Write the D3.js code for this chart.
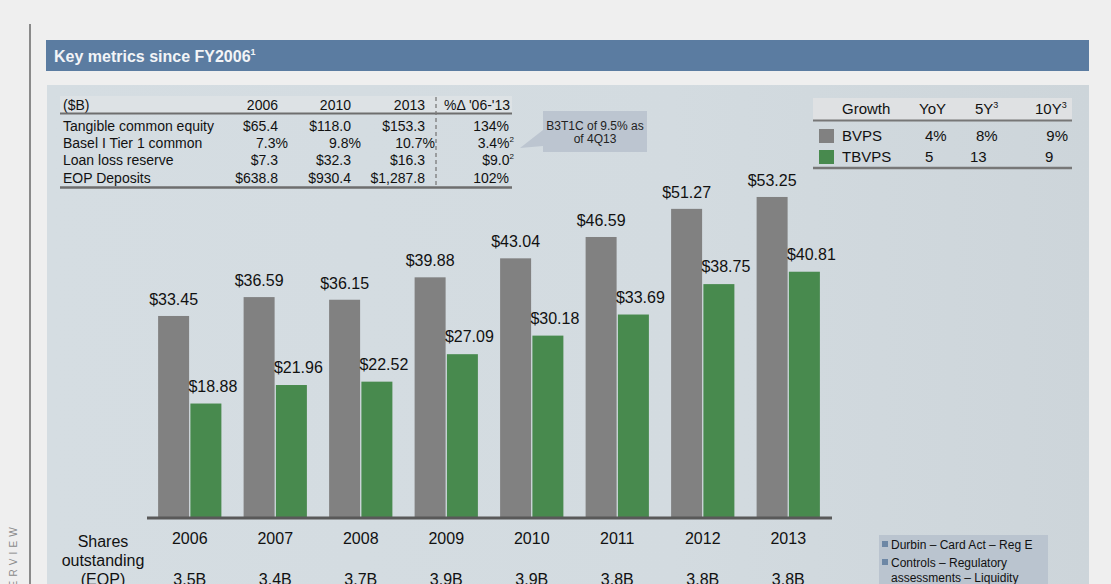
<!DOCTYPE html>
<html><head><meta charset="utf-8">
<script src="https://cdn.jsdelivr.net/npm/d3@7"></script>
<style>
html,body{margin:0;padding:0;background:#efefef;overflow:hidden}
svg{display:block;font-family:"Liberation Sans",Arial,sans-serif}
</style></head>
<body><svg id="c" width="1111" height="584"></svg>
<script>
// ---- data ----
const years = ["2006","2007","2008","2009","2010","2011","2012","2013"];
const series = ["BVPS","TBVPS"];
const bvps  = [33.45, 36.59, 36.15, 39.88, 43.04, 46.59, 51.27, 53.25];
const tbvps = [18.88, 21.96, 22.52, 27.09, 30.18, 33.69, 38.75, 40.81];
const shares = ["3.5B","3.4B","3.7B","3.9B","3.9B","3.8B","3.8B","3.8B"];

const metricNames = ["Tangible common equity","Basel I Tier 1 common","Loan loss reserve","EOP Deposits"];
const metric2006 = ["$65.4","7.3%","$7.3","$638.8"];
const metric2010 = ["$118.0","9.8%","$32.3","$930.4"];
const metric2013 = ["$153.3","10.7%","$16.3","$1,287.8"];
const metricChange = ["134%","3.4%","$9.0","102%"];
const metricChangeNote = ["","2","2",""];
const metricHeader = ["($B)","2006","2010","2013","%Δ '06-'13"];

const growthHeader = ["Growth","YoY","5Y","10Y"];
const growthYoY = ["4%","5"];
const growth5Y = ["8%","13"];
const growth10Y = ["9%","9"];

const calloutLines = ["B3T1C of 9.5% as","of 4Q13"];
const noteLines = ["Durbin – Card Act – Reg E","Controls – Regulatory","assessments – Liquidity"];
const titleText = "Key metrics since FY2006";

// ---- drawing ----
const svg = d3.select("#c");
const GRAY = "#818181", GREEN = "#488a4e";
const colors = d3.scaleOrdinal().domain(series).range([GRAY, GREEN]);

const defs = svg.append("defs");
const g1 = defs.append("linearGradient").attr("id","pg").attr("x1","0").attr("x2","1").attr("y1","0").attr("y2","0");
g1.append("stop").attr("offset","0").attr("stop-color","#d5dde2");
g1.append("stop").attr("offset","0.6").attr("stop-color","#d3dbe0");
g1.append("stop").attr("offset","1").attr("stop-color","#cdd5da");

// left vertical rule and side label
svg.append("line").attr("x1",30).attr("x2",30).attr("y1",24).attr("y2",584).attr("stroke","#8a8a8a").attr("stroke-width",2);
svg.append("text").attr("transform","translate(17,523) rotate(-90)").attr("text-anchor","end")
  .attr("font-size",10).attr("letter-spacing","4.2").attr("fill","#8a8a8a").text("OVERVIEW");

// title bar
svg.append("rect").attr("x",46).attr("y",40).attr("width",1043).attr("height",31).attr("fill","#5b7ca1");
const tt = svg.append("text").attr("x",54).attr("y",62).attr("font-size",16).attr("font-weight","bold").attr("fill","#f2f4f7");
tt.append("tspan").text(titleText);
tt.append("tspan").attr("font-size",9).attr("dy",-7).text("1");

// panel
svg.append("rect").attr("x",47).attr("y",85).attr("width",1042).attr("height",499).attr("fill","url(#pg)");

// ---- metrics table ----
const T = svg.append("g").attr("font-size",14).attr("fill","#111");
T.append("rect").attr("x",60).attr("y",96).attr("width",452).attr("height",17).attr("fill","#dde2e5");
const colRight = [null,278,351,425,509];
T.append("text").attr("x",63).attr("y",110).text(metricHeader[0]);
[1,2,3].forEach(i=>T.append("text").attr("x",colRight[i]).attr("y",110).attr("text-anchor","end").text(metricHeader[i]));
T.append("text").attr("x",444).attr("y",110).text(metricHeader[4]);
T.append("line").attr("x1",60).attr("x2",512).attr("y1",113.5).attr("y2",113.5).attr("stroke","#6e6e6e").attr("stroke-width",2);
T.append("line").attr("x1",60).attr("x2",512).attr("y1",187.5).attr("y2",187.5).attr("stroke","#6e6e6e").attr("stroke-width",2.5);
T.append("line").attr("x1",436).attr("x2",436).attr("y1",97).attr("y2",187).attr("stroke","#7a7a7a").attr("stroke-width",1.3).attr("stroke-dasharray","4,3");

const rowY = d3.scalePoint().domain(metricNames).range([131,182.5]);
const pctShift = [0,10,0,0];
metricNames.forEach((name,i)=>{
  const y = rowY(name);
  T.append("text").attr("x",63).attr("y",y).text(name);
  T.append("text").attr("x",278+pctShift[i]).attr("y",y).attr("text-anchor","end").text(metric2006[i]);
  T.append("text").attr("x",351+pctShift[i]).attr("y",y).attr("text-anchor","end").text(metric2010[i]);
  T.append("text").attr("x",425+pctShift[i]).attr("y",y).attr("text-anchor","end").text(metric2013[i]);
  const t = T.append("text").attr("x",metricChangeNote[i]? 514:509).attr("y",y).attr("text-anchor","end");
  t.append("tspan").text(metricChange[i]);
  if (metricChangeNote[i]) t.append("tspan").attr("font-size",8).attr("dy",-6).text(metricChangeNote[i]);
});

// callout
svg.append("path").attr("d","M543,130 L520,148 L543,146 Z").attr("fill","#bcc5d0");
svg.append("rect").attr("x",543).attr("y",111).attr("width",104).attr("height",41).attr("fill","#bcc5d0");
calloutLines.forEach((l,i)=>svg.append("text").attr("x",595).attr("y",130+i*13).attr("text-anchor","middle")
  .attr("font-size",12).attr("fill","#222").text(l));

// ---- growth table ----
const G = svg.append("g").attr("font-size",15).attr("fill","#111");
G.append("rect").attr("x",813).attr("y",98).attr("width",259).attr("height",22).attr("fill","#dfe1e3");
G.append("text").attr("x",842).attr("y",114).text(growthHeader[0]);
G.append("text").attr("x",919).attr("y",114).text(growthHeader[1]);
const h5 = G.append("text").attr("x",975).attr("y",114); h5.append("tspan").text(growthHeader[2]); h5.append("tspan").attr("font-size",9).attr("dy",-6).text("3");
const h10 = G.append("text").attr("x",1035).attr("y",114); h10.append("tspan").text(growthHeader[3]); h10.append("tspan").attr("font-size",9).attr("dy",-6).text("3");
G.append("line").attr("x1",813).attr("x2",1072).attr("y1",120.5).attr("y2",120.5).attr("stroke","#777").attr("stroke-width",2);
G.append("line").attr("x1",813).attr("x2",1072).attr("y1",168).attr("y2",168).attr("stroke","#777").attr("stroke-width",2.5);
const gy = d3.scalePoint().domain(series).range([141,162]);
series.forEach((s,i)=>{
  const y = gy(s);
  G.append("rect").attr("x",819).attr("y",y-12).attr("width",15).attr("height",14).attr("fill",colors(s));
  G.append("text").attr("x",842).attr("y",y).text(s);
  G.append("text").attr("x",925).attr("y",y).text(growthYoY[i]);
  G.append("text").attr("x",i===0?976:970).attr("y",y).text(growth5Y[i]);
  G.append("text").attr("x",i===0?1068:1045).attr("y",y).attr("text-anchor",i===0?"end":"start").text(growth10Y[i]);
});

// ---- bar chart ----
const x0 = d3.scaleBand().domain(years).range([147,831]).paddingInner(0.26).paddingOuter(0.13);
const x1 = d3.scaleBand().domain(series).range([0,x0.bandwidth()]).paddingInner(0.04);
const y = d3.scaleLinear().domain([0,60]).range([517,156.4]);
const rows = years.map((yr,i)=>({year:yr, vals:[{s:"BVPS",v:bvps[i]},{s:"TBVPS",v:tbvps[i]}]}));

const grp = svg.append("g").selectAll("g").data(rows).join("g").attr("transform",d=>`translate(${x0(d.year)},0)`);
grp.selectAll("rect").data(d=>d.vals).join("rect")
  .attr("x",d=>x1(d.s)).attr("width",x1.bandwidth())
  .attr("y",d=>y(d.v)).attr("height",d=>y(0)-y(d.v)).attr("fill",d=>colors(d.s));
grp.selectAll("text").data(d=>d.vals).join("text")
  .attr("x",d=>x1(d.s)+x1.bandwidth()/2+(d.s==="TBVPS"?7:0))
  .attr("y",d=>y(d.v)-(d.s==="TBVPS"?12:11))
  .attr("text-anchor","middle").attr("font-size",16).attr("fill","#111")
  .text(d=>"$"+d3.format(".2f")(d.v));

// axis baseline
svg.append("line").attr("x1",147).attr("x2",832).attr("y1",518).attr("y2",518).attr("stroke","#595959").attr("stroke-width",3);

// year labels and shares
const xa = d3.axisBottom(x0).tickSize(0).tickPadding(0);
const axG = svg.append("g").attr("transform","translate(0,530)").call(xa);
axG.select(".domain").remove();
axG.selectAll("text").attr("font-size",16).attr("fill","#111").attr("font-family","Liberation Sans, Arial, sans-serif").attr("dy","0.85em");
years.forEach((yr,i)=>svg.append("text").attr("x",x0(yr)+x0.bandwidth()/2).attr("y",585).attr("text-anchor","middle")
  .attr("font-size",16).attr("fill","#111").text(shares[i]));
["Shares","outstanding","(EOP)"].forEach((l,i)=>svg.append("text").attr("x",103).attr("y",547+i*19)
  .attr("text-anchor","middle").attr("font-size",16).attr("fill","#111").text(l));

// note box
svg.append("rect").attr("x",879).attr("y",535).attr("width",169).attr("height",60).attr("fill","#bac4cf");
noteLines.forEach((l,i)=>{
  const yy = [549,567,582][i];
  if (i<2) svg.append("rect").attr("x",882).attr("y",yy-8).attr("width",6).attr("height",6).attr("fill","#6d87a5");
  svg.append("text").attr("x",891).attr("y",yy).attr("font-size",12).attr("fill","#111").text(l);
});
</script></body></html>
